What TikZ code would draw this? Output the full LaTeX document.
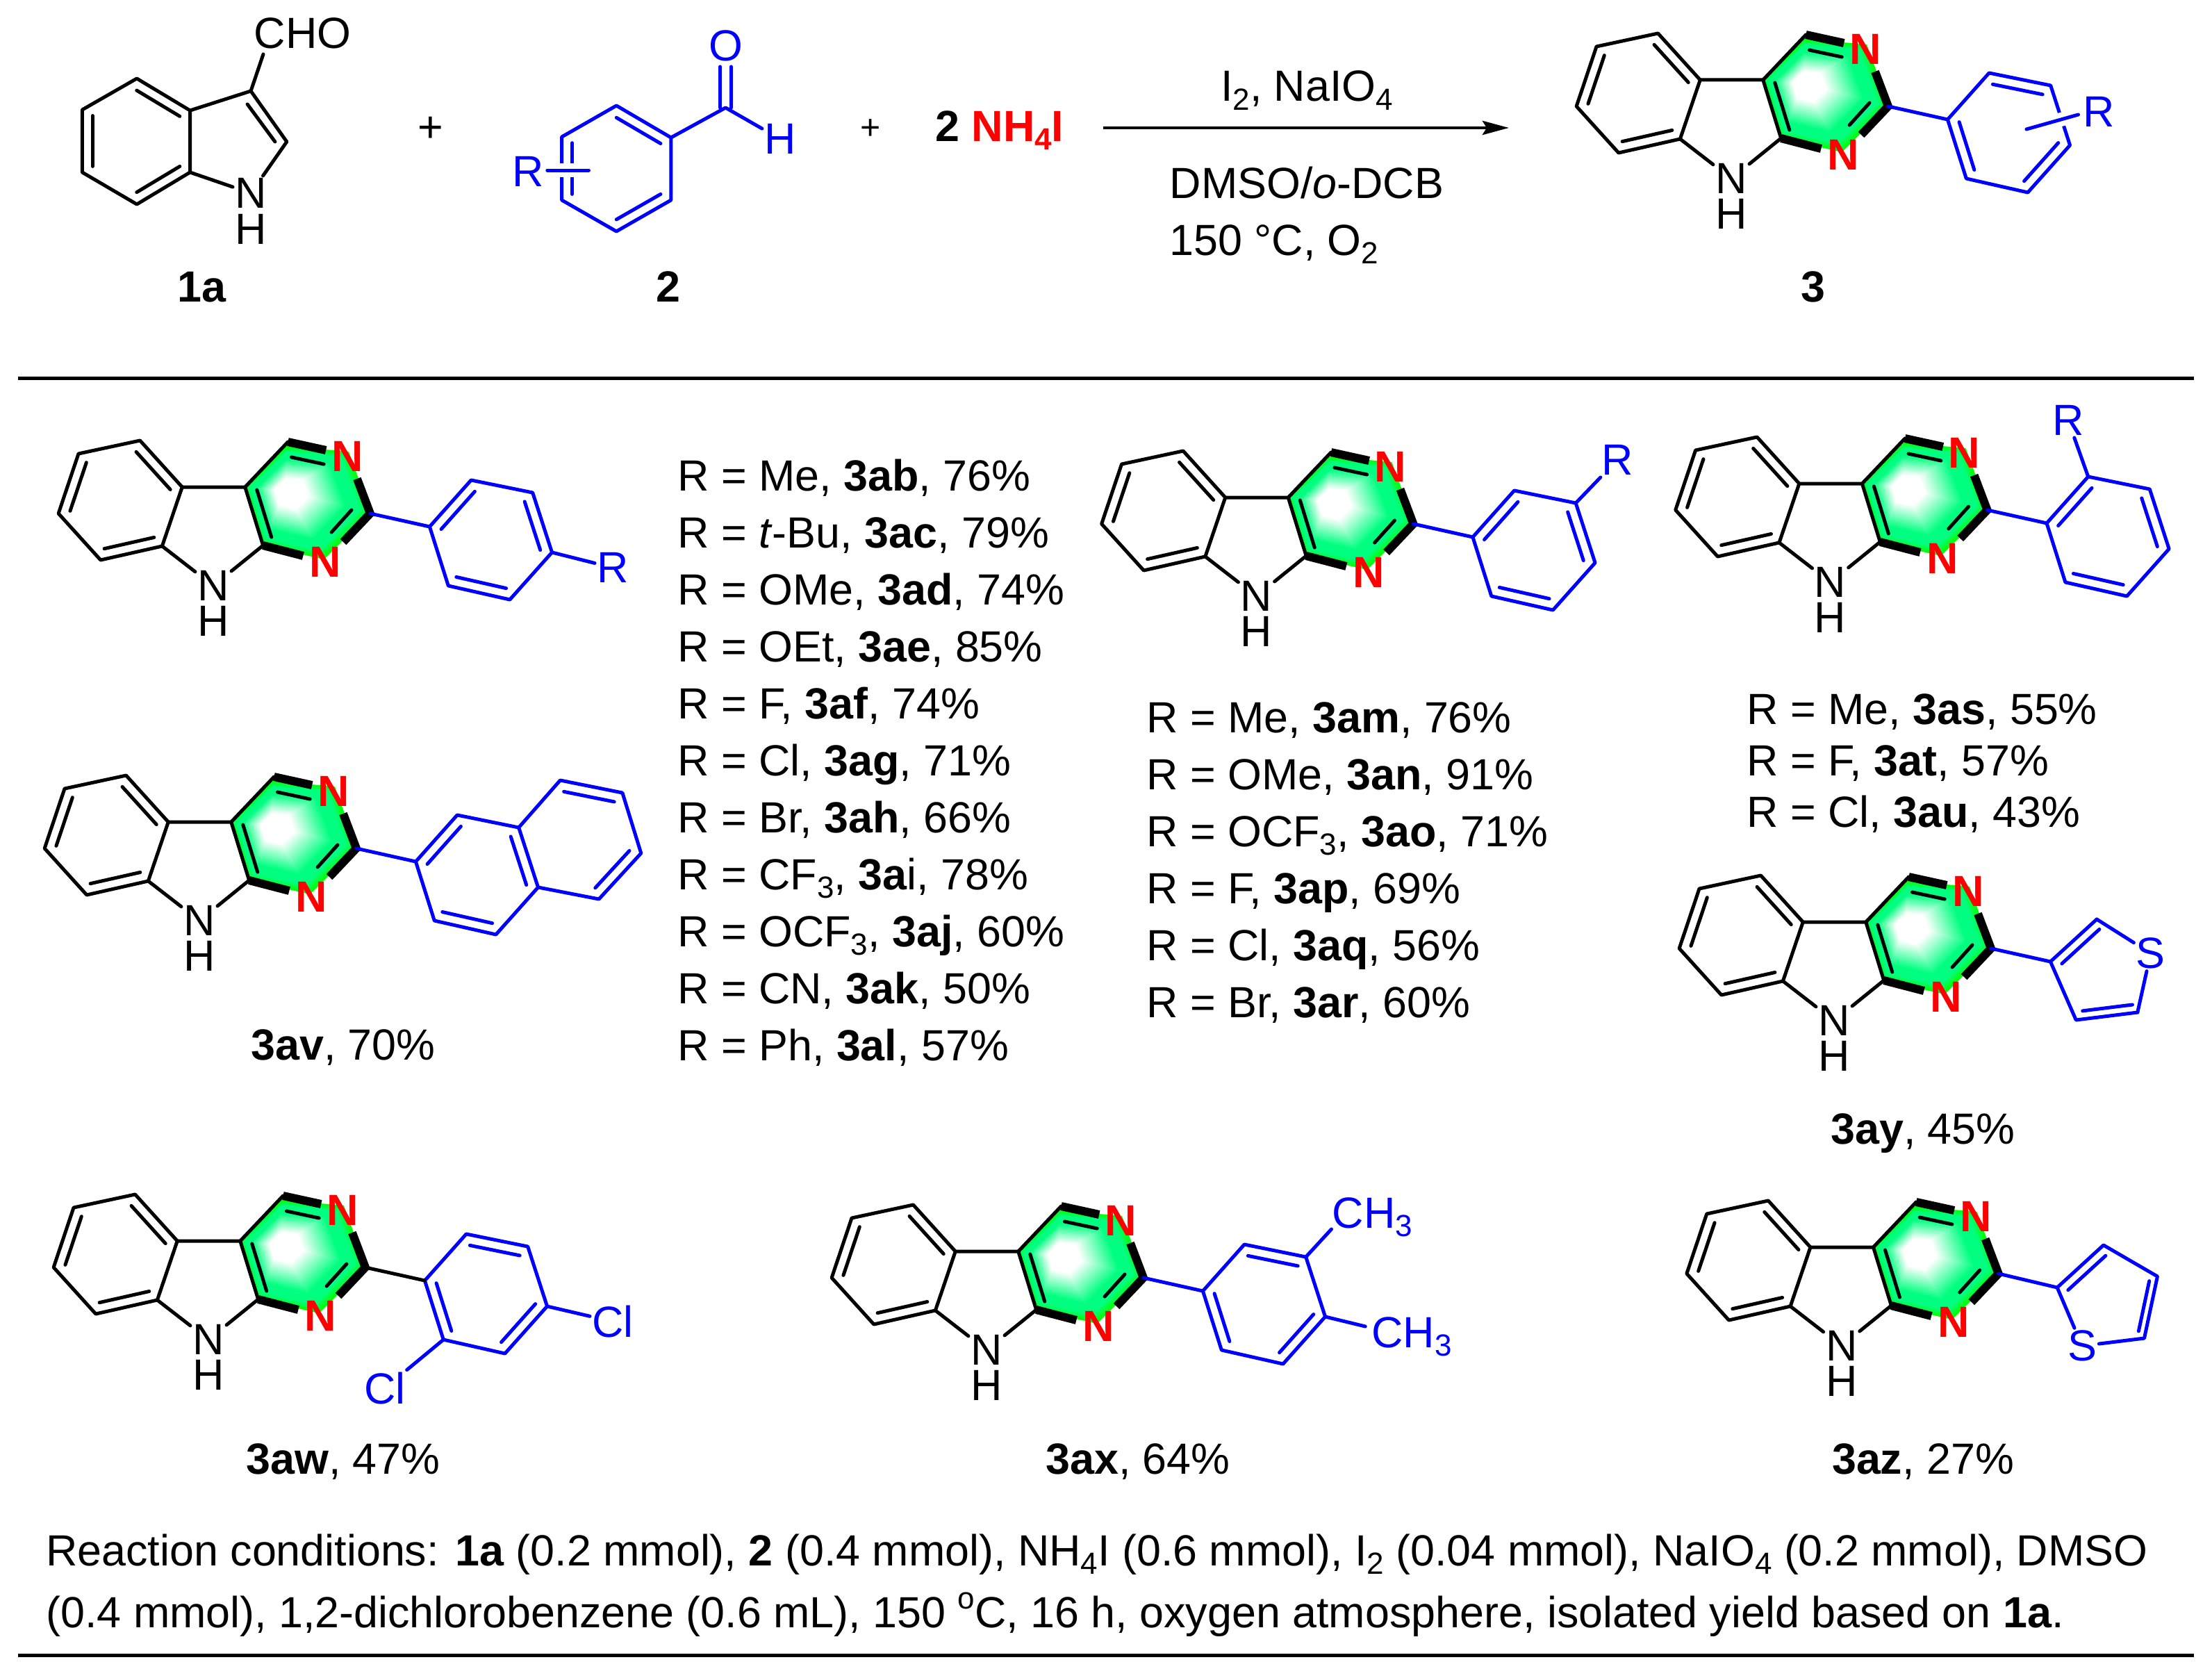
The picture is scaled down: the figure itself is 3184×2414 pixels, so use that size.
\documentclass[tikz,border=0pt]{standalone}
\usepackage{fontspec}
\setmainfont{Liberation Sans}
\usetikzlibrary{calc,arrows.meta}
\definecolor{sprg}{RGB}{0,255,128}
\newcommand\lsub[1]{\raisebox{-.2em}{\fontsize{22}{22}\selectfont #1}}
\newcommand\lsup[1]{\raisebox{.42em}{\fontsize{22}{22}\selectfont #1}}
\newcommand\chemfont{\fontsize{31.4}{36}\selectfont}
\tikzset{
  every node/.style={font=\chemfont,inner sep=0pt},
  atom/.style={inner sep=1.5pt},
  label text/.style={anchor=base west},
  mid text/.style={anchor=base},
  bond/.style={line width=2.5pt,line cap=round,line join=round},
  boldbond/.style={line width=6pt,line cap=butt,line join=miter},
  haloline/.style={line width=10pt,white,line cap=butt},
  rule/.style={line width=2.5pt},
  mol/.style={xscale=.995},
}
\newcommand\dbl[4][black]{\draw[bond,#1] ($(#2)!.19!(#4)$) -- ($(#3)!.19!(#4)$);}
\newcommand\hexlayer[2]{\fill[#2] ($(foc)!#1!(g)$) -- ($(foc)!#1!(v2)$) -- ($(foc)!#1!(v3)$) -- ($(foc)!#1!(v4)$) -- ($(foc)!#1!(v5)$) -- ($(foc)!#1!(j)$) -- cycle;}
\newcommand\pyrglow{%
  \coordinate (foc) at (104,-137);
  \coordinate (v2) at (106,-201); \coordinate (v3) at (196,-193);
  \coordinate (v4) at (228,-105); \coordinate (v5) at (160,-38);
  \foreach \kk in {0,...,5}{%
    \pgfmathsetmacro\grr{1-\kk*0.02}%
    \pgfmathsetmacro\gww{\kk*100/6}%
    \hexlayer{\grr}{sprg!\gww!green}%
  }%
  \hexlayer{.88}{sprg}%
  \foreach \kk in {0,...,20}{%
    \pgfmathsetmacro\grr{.72-\kk*0.022}%
    \pgfmathsetmacro\gww{100-\kk*5}%
    \hexlayer{\grr}{sprg!\gww!white}%
  }%
}
% tricyclic core, origin at the NH nitrogen
\newcommand\carboline{%
  \coordinate (a) at (-106,-209); \coordinate (b) at (-195,-190);
  \coordinate (c) at (-224,-104); \coordinate (d) at (-163,-37);
  \coordinate (e) at (-74,-57);   \coordinate (f) at (-45,-142);
  \coordinate (g) at (46,-142);   \coordinate (h) at (108,-207);
  \coordinate (c2) at (227,-104); \coordinate (j) at (72,-58);
  \coordinate (bz) at (-135,-123);\coordinate (pz) at (136,-121);
  \coordinate (n1a) at (163,-195);\coordinate (n1b) at (208,-154);
  \coordinate (n3a) at (188,-63); \coordinate (n3b) at (130,-43);
  \coordinate (i1a) at (113,-185);\coordinate (i1b) at (160,-175);
  \coordinate (i3a) at (200,-109);\coordinate (i3b) at (171,-77);
  \pyrglow
  \node[atom] (nh) at (0,0) {N};
  \node[atom] (hh) at (0,51) {H};
  \draw[bond] (a) -- (b) -- (c) -- (d) -- (e) -- (f) -- cycle;
  \dbl{a}{f}{bz}\dbl{b}{c}{bz}\dbl{d}{e}{bz}
  \draw[bond] (f) -- (g) -- (h);
  \draw[bond] (g) -- (j);
  \dbl{g}{j}{pz}
  \draw[bond] (e) -- (nh);
  \draw[bond] (j) -- (nh);
  \draw[boldbond] (h) -- (n1a);
  \draw[boldbond] (j) -- (n3b);
  \draw[boldbond] (n1b) -- (c2) -- (n3a);
  \draw[bond] (i1a) -- (i1b);
  \draw[bond] (i3a) -- (i3b);
  \node[atom,red] (n1) at (194,-186) {\textbf{N}};
  \node[atom,red] (n3) at (162,-34) {\textbf{N}};
}
\newcommand\arylpts{%
  \coordinate (q1) at (313,-85);  \coordinate (q2) at (373,-152);
  \coordinate (q3) at (462,-134); \coordinate (q4) at (490,-48);
  \coordinate (q5) at (429,20);   \coordinate (q6) at (340,0);
  \coordinate (qc) at (401,-66);
  \draw[bond,blue] (q1) -- (q2) -- (q3) -- (q4) -- (q5) -- (q6) -- cycle;
}
\newcommand\phA{\arylpts\dbl[blue]{q1}{q2}{qc}\dbl[blue]{q3}{q4}{qc}\dbl[blue]{q5}{q6}{qc}}
\newcommand\phB{\arylpts\dbl[blue]{q2}{q3}{qc}\dbl[blue]{q1}{q6}{qc}\dbl[blue]{q4}{q5}{qc}}
\begin{document}
\begin{tikzpicture}[x=0.5pt,y=-0.5pt]
\useasboundingbox (0,0) rectangle (3184,2414);
\fill[white] (0,0) rectangle (3184,2414);

% ---------- 1a
\begin{scope}[xscale=.9947,name prefix=sa-]
  \coordinate (r1) at (198,113); \coordinate (r2) at (119,158);
  \coordinate (r3) at (119,248); \coordinate (r4) at (198,294);
  \coordinate (r5) at (275,248); \coordinate (r6) at (275,159);
  \coordinate (r7) at (363,131); \coordinate (r8) at (415,204);
  \coordinate (rc) at (197,203);
  \coordinate (i7) at (358,150); \coordinate (i8) at (398,204);
  \node[atom] (n) at (363,278) {N};
  \node[atom] (h) at (363,330) {H};
  \node[atom] (cho) at (438,48) {CHO};
  \coordinate (choend) at (381,78);
  \draw[bond] (r1) -- (r2) -- (r3) -- (r4) -- (r5) -- (r6) -- cycle;
  \dbl{r1}{r6}{rc}\dbl{r2}{r3}{rc}\dbl{r4}{r5}{rc}
  \draw[bond] (r6) -- (r7) -- (r8) -- (n);
  \draw[bond] (r5) -- (n);
  \draw[bond] (i7) -- (i8);
  \draw[bond] (r7) -- (choend);
  \node[mid text] (la) at (292,434) {\textbf{1a}};
\end{scope}
\node (plus1) at (620,186) {+};

% ---------- 2
\begin{scope}[xscale=.9947,name prefix=sb-]
  \coordinate (r1) at (892,152); \coordinate (r2) at (971,198);
  \coordinate (r3) at (971,288); \coordinate (r4) at (892,333);
  \coordinate (r5) at (813,288); \coordinate (r6) at (813,197);
  \coordinate (rc) at (892,243);
  \coordinate (cc) at (1050,155);
  \coordinate (o1) at (1042,96); \coordinate (o2) at (1058,96);
  \coordinate (c1) at (1042,155); \coordinate (c2) at (1058,155);
  \coordinate (rl) at (792,245); \coordinate (rr) at (852,245);
  \draw[bond,blue] (r1) -- (r2) -- (r3) -- (r4) -- (r5) -- (r6) -- cycle;
  \dbl[blue]{r1}{r2}{rc}\dbl[blue]{r3}{r4}{rc}\dbl[blue]{r5}{r6}{rc}
  \draw[haloline] (rl) -- (rr);
  \draw[bond,blue] (rl) -- (rr);
  \node[atom,blue] (o) at (1050,66) {O};
  \node[atom,blue] (h) at (1129,200) {H};
  \node[atom,blue] (rg) at (764,247) {R};
  \draw[bond,blue] (r2) -- (cc) -- (h);
  \draw[bond,blue] (c1) -- (o1);
  \draw[bond,blue] (c2) -- (o2);
  \node[mid text] (lb) at (967,434) {\textbf{2}};
\end{scope}
\node (plus2) at (1253,186) {\fontsize{25}{25}\selectfont +};
\node[label text] (nh4) at (1346,203) {\textbf{2 \textcolor{red}{NH\lsub{4}I}}};

% ---------- arrow
\coordinate (ar1) at (1588,184);
\coordinate (ar2) at (2172,184);
\draw[line width=2.4pt,-{Stealth[length=19pt,width=10pt,inset=3pt]}] (ar1) -- (ar2);
\node[mid text] (c1t) at (1881,146) {I\lsub{2}, NaIO\lsub{4}};
\node[mid text] (c2t) at (1881,285) {DMSO/\textit{o}-DCB};
\node[label text] (c3t) at (1683,367) {150 °C, O\lsub{2}};

% ---------- 3 (scheme)
\begin{scope}[shift={(2492,257)},mol,name prefix=p-]
  \carboline\phB
  \draw[bond,blue] (c2) -- (q1);
  \coordinate (sl) at (427,-71); \coordinate (sr) at (502,-92);
  \draw[haloline] (sl) -- (sr);
  \draw[bond,blue] (sl) -- (sr);
  \node[atom,blue] (rg) at (532,-96) {R};
\end{scope}
\node[mid text] (l3) at (2610,434) {\textbf{3}};

\draw[rule] (26,544) -- coordinate (rm1) (3158,544);

% ---------- 3ab series
\begin{scope}[shift={(307,843)},mol,name prefix=ab-]
  \carboline\phA
  \draw[bond,blue] (c2) -- (q1);
  \node[atom,blue] (rg) at (578,-26) {R};
  \draw[bond,blue] (q4) -- (rg);
\end{scope}
\node[label text] (t01) at (975,706) {R = Me, \textbf{3ab}, 76\%};
\node[label text] (t02) at (975,788) {R = \textit{t}-Bu, \textbf{3ac}, 79\%};
\node[label text] (t03) at (975,870) {R = OMe, \textbf{3ad}, 74\%};
\node[label text] (t04) at (975,952) {R = OEt, \textbf{3ae}, 85\%};
\node[label text] (t05) at (975,1034) {R = F, \textbf{3af}, 74\%};
\node[label text] (t06) at (975,1116) {R = Cl, \textbf{3ag}, 71\%};
\node[label text] (t07) at (975,1198) {R = Br, \textbf{3ah}, 66\%};
\node[label text] (t08) at (975,1280) {R = CF\lsub{3}, \textbf{3a}i, 78\%};
\node[label text] (t09) at (975,1362) {R = OCF\lsub{3}, \textbf{3aj}, 60\%};
\node[label text] (t10) at (975,1444) {R = CN, \textbf{3ak}, 50\%};
\node[label text] (t11) at (975,1526) {R = Ph, \textbf{3al}, 57\%};

% ---------- 3am series
\begin{scope}[shift={(1808.5,858)},mol,name prefix=am-]
  \carboline\phA
  \draw[bond,blue] (c2) -- (q1);
  \node[atom,blue] (rg) at (522,-196) {R};
  \draw[bond,blue] (q3) -- (rg);
\end{scope}
\node[label text] (u1) at (1650,1054) {R = Me, \textbf{3am}, 76\%};
\node[label text] (u2) at (1650,1136) {R = OMe, \textbf{3an}, 91\%};
\node[label text] (u3) at (1650,1218) {R = OCF\lsub{3}, \textbf{3ao}, 71\%};
\node[label text] (u4) at (1650,1300) {R = F, \textbf{3ap}, 69\%};
\node[label text] (u5) at (1650,1382) {R = Cl, \textbf{3aq}, 56\%};
\node[label text] (u6) at (1650,1464) {R = Br, \textbf{3ar}, 60\%};

% ---------- 3as series
\begin{scope}[shift={(2634.6,838)},mol,name prefix=as-]
  \carboline\phA
  \draw[bond,blue] (c2) -- (q1);
  \node[atom,blue] (rg) at (344,-233) {R};
  \draw[bond,blue] (q2) -- (rg);
\end{scope}
\node[label text] (v1) at (2514,1042) {R = Me, \textbf{3as}, 55\%};
\node[label text] (v2) at (2514,1116) {R = F, \textbf{3at}, 57\%};
\node[label text] (v3) at (2514,1190) {R = Cl, \textbf{3au}, 43\%};

% ---------- 3av
\begin{scope}[shift={(287,1325)},mol,name prefix=av-]
  \carboline\phA
  \draw[bond,blue] (c2) -- (q1);
  \coordinate (n7) at (522,-202); \coordinate (n8) at (612,-184);
  \coordinate (n9) at (639,-97);  \coordinate (n10) at (578,-31);
  \coordinate (nc) at (550,-116);
  \draw[bond,blue] (q3) -- (n7) -- (n8) -- (n9) -- (n10) -- (q4);
  \dbl[blue]{n7}{n8}{nc}\dbl[blue]{n9}{n10}{nc}
\end{scope}
\node[mid text] (wa) at (494,1525) {\textbf{3av}, 70\%};

% ---------- 3ay
\begin{scope}[shift={(2640,1469)},mol,name prefix=ay-]
  \carboline
  \coordinate (t1) at (313,-85); \coordinate (t2) at (380,-146);
  \coordinate (t4) at (439,-12); \coordinate (t5) at (350,-1);
  \coordinate (tc) at (400,-70);
  \node[atom,blue] (s) at (458,-97) {S};
  \draw[bond,blue] (c2) -- (t1);
  \draw[bond,blue] (t2) -- (t1) -- (t5) -- (t4);
  \draw[bond,blue] (t2) -- (s);
  \draw[bond,blue] (t4) -- (s);
  \dbl[blue]{t1}{t2}{tc}\dbl[blue]{t4}{t5}{tc}
\end{scope}
\node[mid text] (wb) at (2768,1646) {\textbf{3ay}, 45\%};

% ---------- 3aw
\begin{scope}[shift={(300,1928)},mol,name prefix=aw-]
  \carboline\phB
  \draw[bond] (c2) -- (q1);
  \node[atom,blue] (cl1) at (585,-26) {Cl};
  \node[atom,blue] (cl2) at (255,70) {Cl};
  \draw[bond,blue] (q4) -- (cl1);
  \draw[bond,blue] (q6) -- (cl2);
\end{scope}
\node[mid text] (wc) at (494,2121) {\textbf{3aw}, 47\%};

% ---------- 3ax
\begin{scope}[shift={(1420,1943)},mol,name prefix=ax-]
  \carboline\phB
  \draw[bond,blue] (c2) -- (q1);
  \node[atom,blue,inner sep=0pt,label text] (me1) at (500,-176) {CH\lsub{3}};
  \node[atom,blue,inner sep=0pt,label text] (me2) at (557,-4) {CH\lsub{3}};
  \coordinate (e1) at (499,-174); \coordinate (e2) at (548,-34);
  \draw[bond,blue] (q3) -- (e1);
  \draw[bond,blue] (q4) -- (e2);
\end{scope}
\node[mid text] (wd) at (1638,2121) {\textbf{3ax}, 64\%};

% ---------- 3az
\begin{scope}[shift={(2650.7,1937)},mol,name prefix=az-]
  \carboline
  \coordinate (t1) at (312,-84); \coordinate (t2) at (379,-145);
  \coordinate (t3) at (457,-100); \coordinate (t4) at (438,-11);
  \coordinate (tc) at (395,-65);
  \node[atom,blue] (s) at (348,0) {S};
  \draw[bond,blue] (c2) -- (t1);
  \draw[bond,blue] (s) -- (t1) -- (t2) -- (t3) -- (t4) -- (s);
  \dbl[blue]{t1}{t2}{tc}\dbl[blue]{t3}{t4}{tc}
\end{scope}
\node[mid text] (we) at (2768,2121) {\textbf{3az}, 27\%};

% ---------- footnote
\node[label text] (f1) at (66,2253) {Reaction conditions: \textbf{1a} (0.2 mmol), \textbf{2} (0.4 mmol), NH\lsub{4}I (0.6 mmol), I\lsub{2} (0.04 mmol), NaIO\lsub{4} (0.2 mmol), DMSO};
\node[label text] (f2) at (66,2342) {(0.4 mmol), 1,2-dichlorobenzene (0.6 mL), 150 \lsup{o}C, 16 h, oxygen atmosphere, isolated yield based on \textbf{1a}.};
\draw[rule] (26,2382) -- coordinate (rm2) (3158,2382);
\end{tikzpicture}
\end{document}
